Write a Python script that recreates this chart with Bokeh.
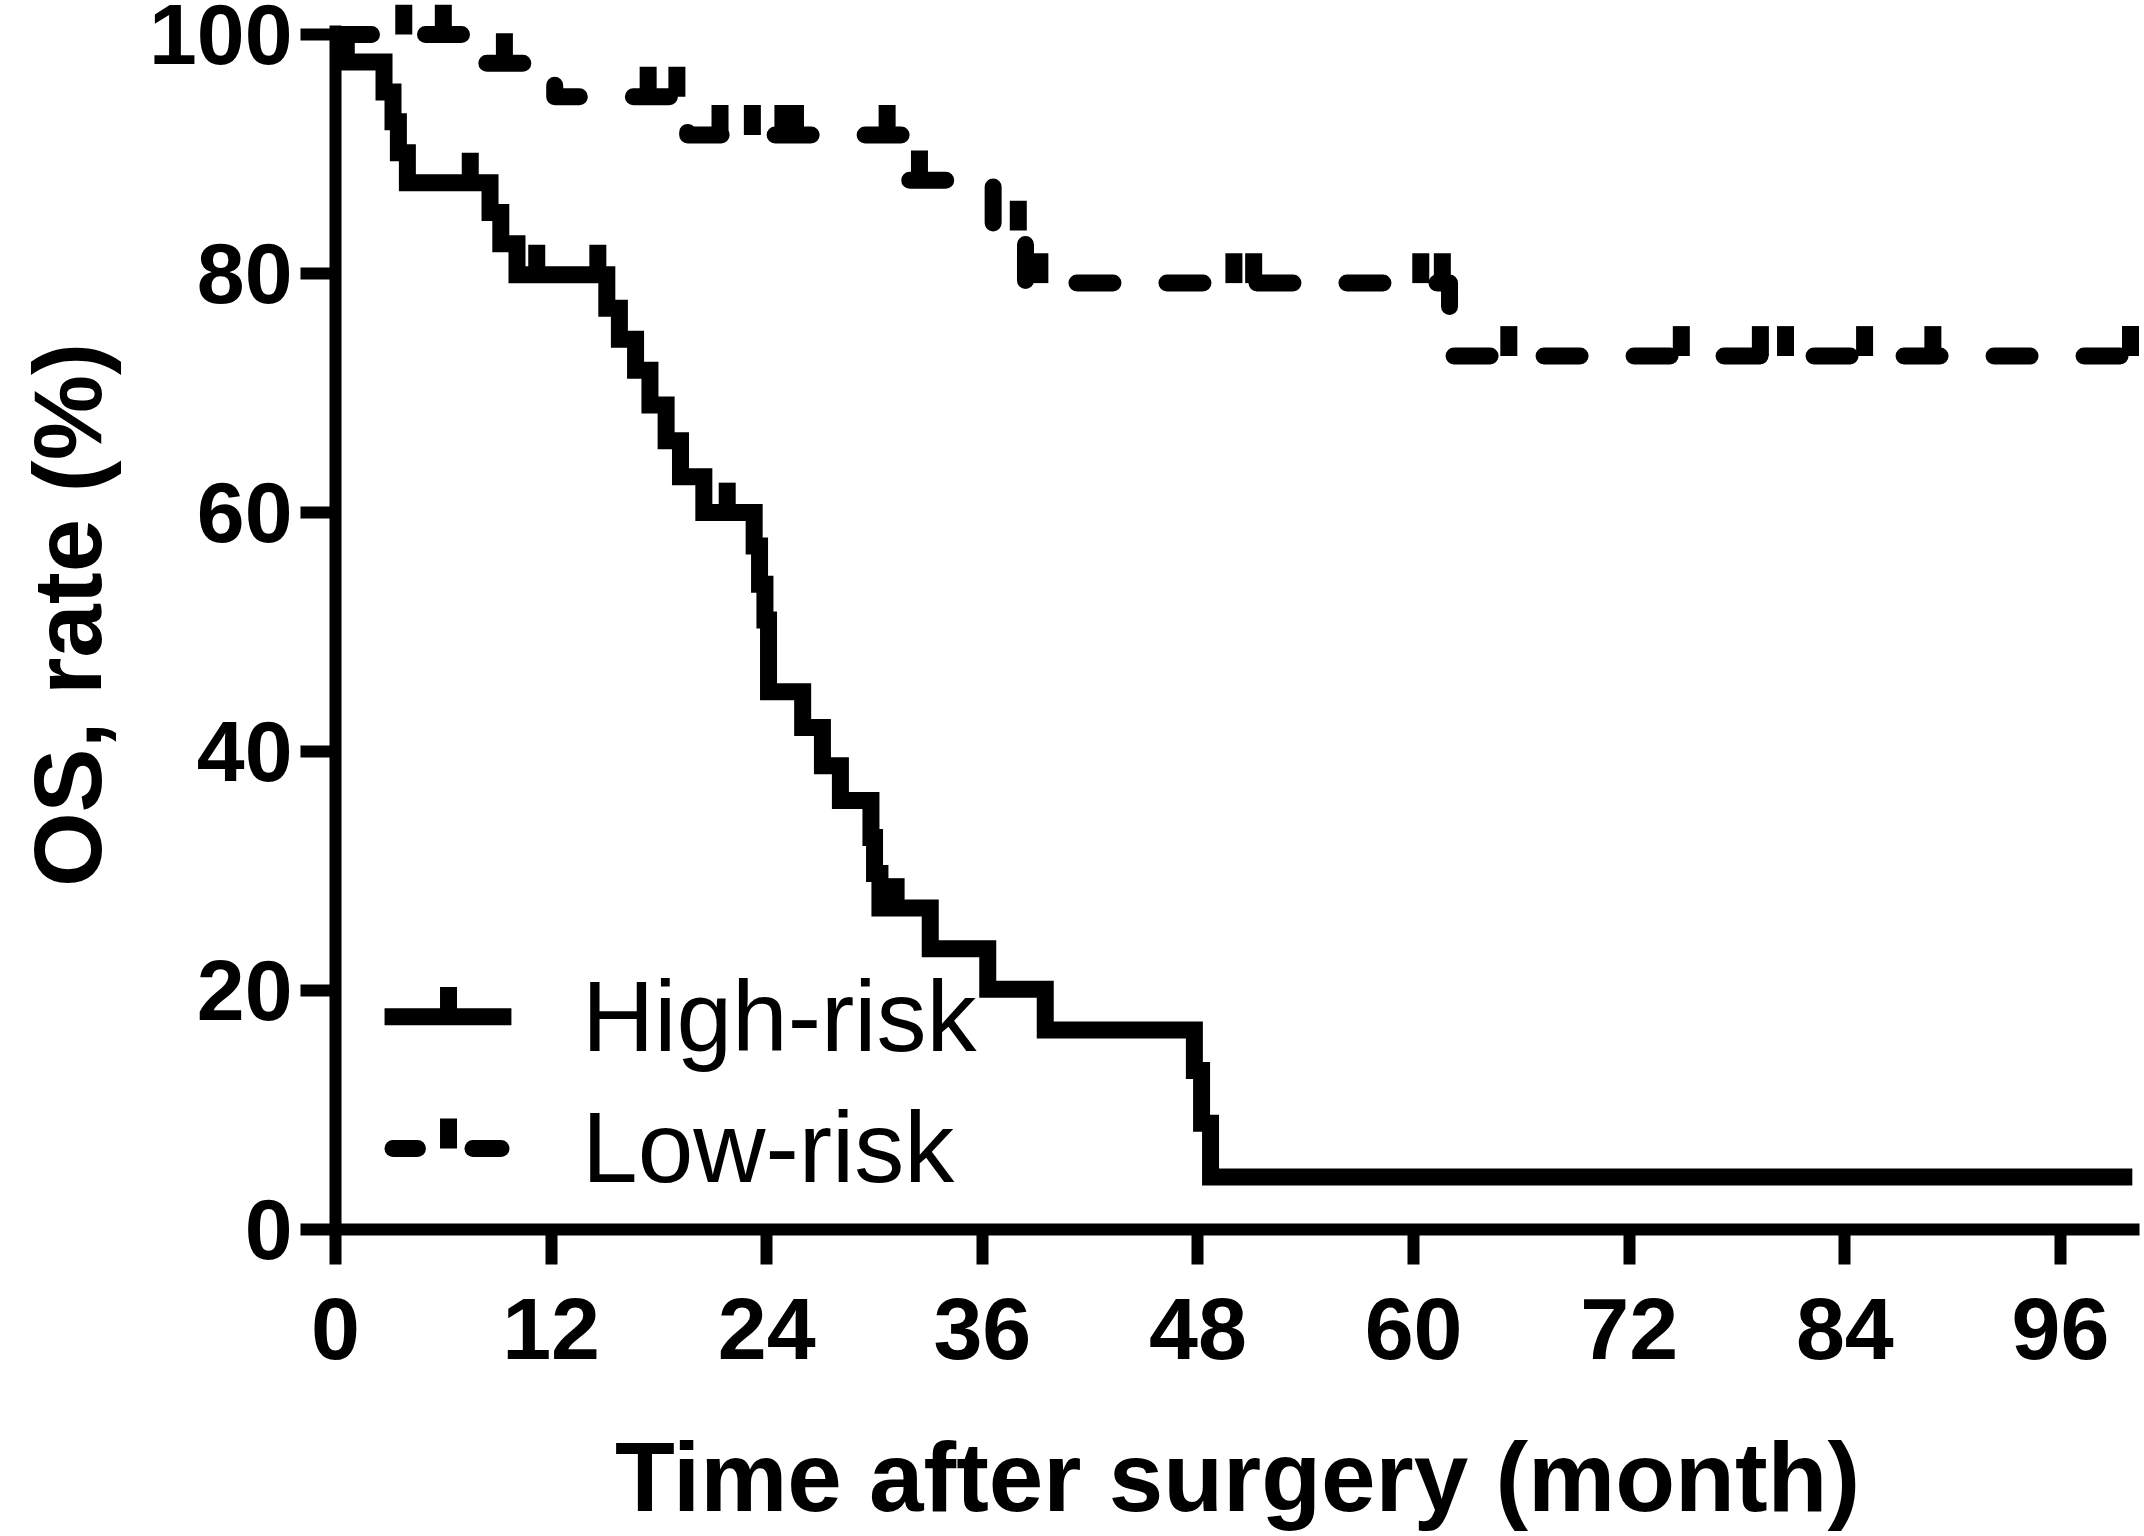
import numpy as np
from bokeh.plotting import figure
from bokeh.models import Range1d, FixedTicker, Label, ColumnDataSource
from bokeh.embed import file_html
from bokeh.resources import INLINE

# ---------------- data ----------------
high_event_times = [0.6, 2.7, 3.2, 3.5, 4.0, 8.6, 9.2, 10.1, 15.1, 15.8, 16.7, 17.5,
                    18.4, 19.2, 20.5, 23.3, 23.6, 23.9, 24.1, 26.0, 27.1, 28.1, 29.8,
                    30.0, 30.3, 33.1, 36.3, 39.5, 47.8, 48.2, 48.7]
high_survival = [97.7, 95.2, 92.7, 90.1, 87.6, 85.1, 82.5, 79.9, 77.1, 74.5, 71.9, 69.0,
                 66.0, 63.0, 60.0, 57.2, 54.0, 51.0, 45.0, 42.0, 38.8, 35.9, 32.8,
                 29.8, 26.9, 23.5, 20.1, 16.7, 13.3, 8.9, 4.4]
high_censor_times = [7.5, 11.2, 14.6, 21.8, 31.2]

low_event_times = [7.2, 12.2, 19.6, 31.6, 36.6, 38.4, 62.0]
low_survival = [97.6, 94.8, 91.6, 87.8, 83.6, 79.2, 73.1]
low_censor_times = [3.8, 6.0, 9.4, 17.4, 19.0, 21.4, 23.2, 24.9, 25.6, 30.7, 32.5,
                    38.0, 39.2, 50.0, 51.1, 60.4, 61.6, 65.3, 74.9, 79.3, 80.7,
                    85.1, 88.9, 99.9]
follow_up_end = 100.0

x_ticks = [0, 12, 24, 36, 48, 60, 72, 84, 96]
y_ticks = [0, 20, 40, 60, 80, 100]
series_names = ["High-risk", "Low-risk"]
x_title = "Time after surgery (month)"
y_title = "OS, rate (%)"

# ---------------- helpers ----------------
def km_path(times, surv, end):
    xs = [0.0] + list(times) + [end]
    ys = [100.0] + list(surv) + [surv[-1]]
    return xs, ys

def surv_at(times, surv, t):
    idx = np.searchsorted(np.asarray(times), np.asarray(t), side="right")
    levels = np.concatenate([[100.0], np.asarray(surv)])
    return levels[idx]

TICK_LEN = 2.5   # censor tick height (in % units)
LW = 17
FONT = "Liberation Sans"

p = figure(width=2144, height=1536,
           x_range=Range1d(0, 100.4), y_range=Range1d(0, 102.85),
           output_backend="svg", toolbar_location=None,
           min_border_left=335, min_border_right=5,
           min_border_top=0, min_border_bottom=307)
p.outline_line_color = None
p.grid.visible = False
p.background_fill_color = "white"
p.border_fill_color = "white"

# curves
hx, hy = km_path(high_event_times, high_survival, follow_up_end)
lx, ly = km_path(low_event_times, low_survival, follow_up_end)

p.step(lx, ly, mode="after", line_color="black", line_width=LW,
       line_dash="36 54", line_cap="round", line_join="round")
p.step(hx, hy, mode="after", line_color="black", line_width=LW,
       line_join="miter", line_cap="butt")

hc_y = surv_at(high_event_times, high_survival, high_censor_times)
lc_y = surv_at(low_event_times, low_survival, low_censor_times)
src_hc = ColumnDataSource(dict(x=high_censor_times, y0=hc_y, y1=hc_y + TICK_LEN))
src_lc = ColumnDataSource(dict(x=low_censor_times, y0=lc_y, y1=lc_y + TICK_LEN))
p.segment(x0="x", y0="y0", x1="x", y1="y1", source=src_hc,
          line_color="black", line_width=LW, line_cap="butt")
p.segment(x0="x", y0="y0", x1="x", y1="y1", source=src_lc,
          line_color="black", line_width=LW, line_cap="butt")

# axes
for ax in (p.xaxis[0], p.yaxis[0]):
    ax.axis_line_width = 12
    ax.axis_line_color = "black"
    ax.major_tick_line_width = 12
    ax.major_tick_line_color = "black"
    ax.major_tick_out = 35
    ax.major_tick_in = 0
    ax.minor_tick_line_color = None
    ax.major_label_text_font = FONT
    ax.major_label_text_font_style = "bold"
    ax.major_label_text_color = "black"
    ax.axis_label_text_font = FONT
    ax.axis_label_text_font_style = "bold"
    ax.axis_label_text_color = "black"

p.xaxis.major_label_text_font_size = "88px"
p.yaxis.major_label_text_font_size = "86px"
p.xaxis.ticker = FixedTicker(ticks=x_ticks)
p.yaxis.ticker = FixedTicker(ticks=y_ticks)
p.xaxis.bounds = (0, 100.4)
p.yaxis.bounds = (0, 100.75)
p.xaxis.major_label_standoff = 33
p.yaxis.major_label_standoff = 8

p.xaxis.axis_label = x_title
p.xaxis.axis_label_text_font_size = "98px"
p.xaxis.axis_label_standoff = 60
p.yaxis.axis_label = y_title
p.yaxis.axis_label_text_font_size = "96px"
p.yaxis.axis_label_standoff = 25

# legend (drawn by hand to reproduce the tick-in-line samples)
LEG_X0, LEG_X1 = 2.73, 9.79
LEG_TICK_X = 6.29
LEG_TEXT_X = 13.72
LEG_Y = [17.8, 6.78]
LEG_TEXT_Y = [17.9, 6.9]

p.segment(x0=[LEG_X0], y0=[LEG_Y[0]], x1=[LEG_X1], y1=[LEG_Y[0]],
          line_color="black", line_width=LW, line_cap="butt")
p.segment(x0=[3.2, 7.65], y0=[LEG_Y[1]] * 2, x1=[4.56, 9.21], y1=[LEG_Y[1]] * 2,
          line_color="black", line_width=LW, line_cap="round")
p.segment(x0=[LEG_TICK_X] * 2, y0=LEG_Y, x1=[LEG_TICK_X] * 2,
          y1=[v + TICK_LEN for v in LEG_Y],
          line_color="black", line_width=LW, line_cap="butt")
for name, ty in zip(series_names, LEG_TEXT_Y):
    p.add_layout(Label(x=LEG_TEXT_X, y=ty, text=name, text_align="left",
                       text_baseline="alphabetic", text_font=FONT,
                       text_font_size="100px", text_color="black"))

open("out.html", "w").write(file_html(p, INLINE))
